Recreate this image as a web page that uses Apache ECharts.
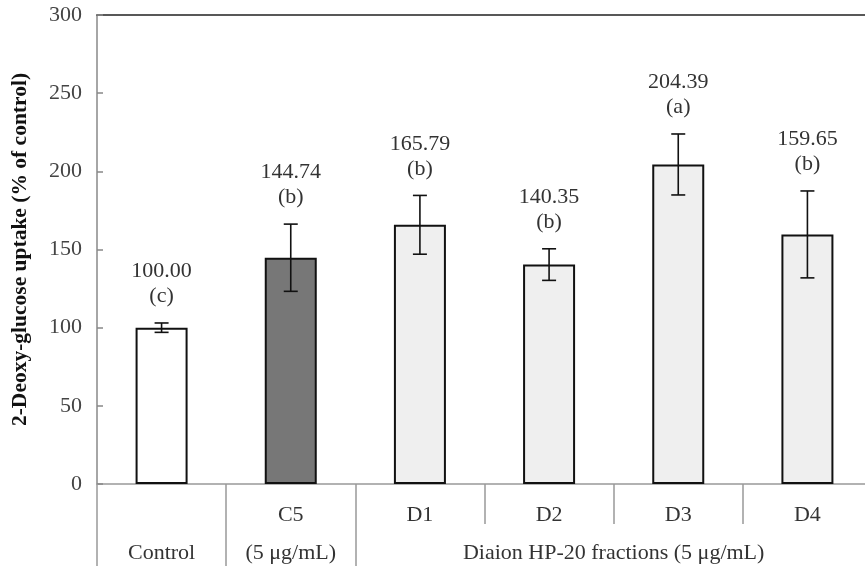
<!DOCTYPE html>
<html>
<head>
<meta charset="utf-8">
<script src="https://cdn.jsdelivr.net/npm/echarts@6/dist/echarts.min.js"></script>
<style>
  html, body { margin: 0; padding: 0; background: #fff; }
  #chart { width: 865px; height: 566px; }
</style>
</head>
<body>
<div id="chart"></div>
<script>
// Treatments and their 2-deoxy-glucose uptake (% of control)
const categories = ['Control', 'C5', 'D1', 'D2', 'D3', 'D4'];
const firstRowLabels = ['', 'C5', 'D1', 'D2', 'D3', 'D4'];
const means = [100.00, 144.74, 165.79, 140.35, 204.39, 159.65];
const errors = [3.0, 21.5, 18.8, 10.1, 19.5, 27.8];
const letters = ['c', 'b', 'b', 'b', 'a', 'b'];

// Second row of the category axis: group names and the category span each covers
const groupNames = ['Control', '(5 μg/mL)', 'Diaion HP-20 fractions (5 μg/mL)'];
const groupStart = [0, 1, 2];
const groupEnd = [1, 2, 6];

// Y axis range
const yMin = 0, yMax = 300, yStep = 50;

const FONT = 'Liberation Serif';
const TXT = 22;
const barFill = ['#ffffff', '#777777', '#efefef', '#efefef', '#efefef', '#efefef'];

const chart = echarts.init(document.getElementById('chart'), null, { renderer: 'canvas' });

const groupMids = groupStart.map((s, i) => (s + groupEnd[i]) / 2);
const groupEdges = groupStart.concat([groupEnd[groupEnd.length - 1]]);

chart.setOption({
  backgroundColor: '#ffffff',
  animation: false,
  // the plot runs a few pixels past the right edge of the canvas
  grid: { left: 97, top: 15, right: -7, bottom: 82, containLabel: false, outerBoundsMode: 'none' },
  xAxis: [
    {
      type: 'category',
      data: categories,
      position: 'bottom',
      axisLine: { show: true, lineStyle: { color: '#999', width: 1.5 } },
      axisTick: { show: true, length: 40, lineStyle: { color: '#999', width: 1.5 } },
      axisLabel: {
        margin: 20,
        fontFamily: FONT, fontSize: TXT, color: '#333',
        formatter: (v, i) => firstRowLabels[i]
      },
      splitLine: { show: false }
    },
    {
      type: 'value',
      min: 0, max: categories.length,
      position: 'bottom',
      offset: 40,
      axisLine: { show: false },
      splitLine: { show: false },
      axisTick: { show: true, length: 42, customValues: groupEdges, lineStyle: { color: '#999', width: 1.5 } },
      axisLabel: {
        margin: 18,
        customValues: groupMids,
        fontFamily: FONT, fontSize: TXT, color: '#333',
        formatter: (v) => {
          const k = groupMids.indexOf(v);
          return k >= 0 ? groupNames[k] : '';
        }
      }
    },
    {
      type: 'category',
      data: categories,
      position: 'top',
      axisLine: { show: true, lineStyle: { color: '#222', width: 1.5 } },
      axisTick: { show: false },
      axisLabel: { show: false }
    }
  ],
  yAxis: {
    type: 'value',
    min: yMin, max: yMax, interval: yStep,
    name: '2-Deoxy-glucose uptake (% of control)',
    nameLocation: 'middle',
    nameGap: 66,
    nameTextStyle: { fontFamily: FONT, fontSize: 21.5, fontWeight: 'bold', color: '#111' },
    axisLine: { show: true, lineStyle: { color: '#888', width: 1.5 } },
    axisTick: { show: true, inside: true, length: 6, lineStyle: { color: '#888', width: 1.5 } },
    axisLabel: { margin: 15, fontFamily: FONT, fontSize: TXT, color: '#444' },
    splitLine: { show: false }
  },
  series: [
    {
      type: 'bar',
      xAxisIndex: 0,
      barWidth: 52,
      data: means.map((v, i) => ({
        value: v,
        itemStyle: { color: barFill[i], borderColor: '#111', borderWidth: 2 }
      })),
      z: 2
    },
    {
      type: 'custom',
      xAxisIndex: 0,
      z: 5,
      data: means.map((m, i) => [i, m, errors[i]]),
      renderItem: function (params, api) {
        const i = api.value(0);
        const m = api.value(1);
        const e = api.value(2);
        const hi = api.coord([i, m + e]);
        const lo = api.coord([i, m - e]);
        const cap = 7;
        const st = { stroke: '#111', lineWidth: 1.6 };
        return {
          type: 'group',
          children: [
            { type: 'line', shape: { x1: hi[0], y1: hi[1], x2: lo[0], y2: lo[1] }, style: st },
            { type: 'line', shape: { x1: hi[0] - cap, y1: hi[1], x2: hi[0] + cap, y2: hi[1] }, style: st },
            { type: 'line', shape: { x1: lo[0] - cap, y1: lo[1], x2: lo[0] + cap, y2: lo[1] }, style: st },
            {
              type: 'text',
              x: hi[0], y: hi[1] - 14,
              style: {
                text: m.toFixed(2) + '\n(' + letters[params.dataIndex] + ')',
                fontFamily: FONT, fontSize: TXT, lineHeight: 25,
                fill: '#333', align: 'center', verticalAlign: 'bottom'
              }
            }
          ]
        };
      }
    }
  ]
});
</script>
</body>
</html>
